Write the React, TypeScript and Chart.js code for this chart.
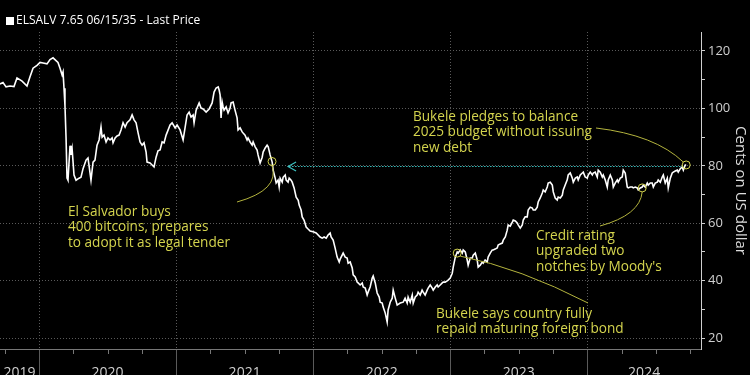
import React, { useEffect, useRef } from 'react';
import { Chart, registerables } from 'chart.js';

Chart.register(...registerables);

// ---- DATA (decimal years, cents on the dollar) ----
const DATES: number[] = [
  2019.715, 2019.737, 2019.759, 2019.788, 2019.817, 2019.839, 2019.876, 2019.912, 2019.934, 2019.956,
  2019.985, 2020.007, 2020.029, 2020.058, 2020.080, 2020.102, 2020.116, 2020.138, 2020.153, 2020.168,
  2020.175, 2020.182, 2020.189, 2020.197, 2020.204, 2020.211, 2020.226, 2020.233, 2020.241, 2020.255,
  2020.270, 2020.292, 2020.306, 2020.321, 2020.343, 2020.357, 2020.365, 2020.379, 2020.394, 2020.408,
  2020.423, 2020.438, 2020.452, 2020.460, 2020.474, 2020.489, 2020.503, 2020.518, 2020.533, 2020.540,
  2020.555, 2020.569, 2020.584, 2020.598, 2020.613, 2020.628, 2020.642, 2020.664, 2020.679, 2020.693,
  2020.708, 2020.723, 2020.737, 2020.752, 2020.766, 2020.781, 2020.788, 2020.810, 2020.825, 2020.839,
  2020.854, 2020.868, 2020.883, 2020.898, 2020.912, 2020.927, 2020.942, 2020.956, 2020.971, 2020.993,
  2021.007, 2021.029, 2021.051, 2021.066, 2021.080, 2021.095, 2021.109, 2021.124, 2021.131, 2021.146,
  2021.168, 2021.182, 2021.197, 2021.219, 2021.241, 2021.263, 2021.277, 2021.292, 2021.307, 2021.314,
  2021.321, 2021.328, 2021.336, 2021.343, 2021.350, 2021.365, 2021.379, 2021.394, 2021.401, 2021.416,
  2021.430, 2021.445, 2021.452, 2021.467, 2021.482, 2021.489, 2021.503, 2021.518, 2021.525, 2021.540,
  2021.555, 2021.562, 2021.577, 2021.591, 2021.598, 2021.613, 2021.628, 2021.635, 2021.650, 2021.664,
  2021.672, 2021.686, 2021.701, 2021.708, 2021.723, 2021.730, 2021.744, 2021.752, 2021.759, 2021.774,
  2021.781, 2021.796, 2021.803, 2021.817, 2021.825, 2021.839, 2021.847, 2021.861, 2021.876, 2021.891,
  2021.898, 2021.912, 2021.920, 2021.934, 2021.949, 2021.963, 2021.978, 2022.000, 2022.022, 2022.051,
  2022.066, 2022.080, 2022.095, 2022.109, 2022.124, 2022.131, 2022.146, 2022.160, 2022.175, 2022.190,
  2022.197, 2022.219, 2022.234, 2022.248, 2022.255, 2022.270, 2022.285, 2022.292, 2022.307, 2022.321,
  2022.328, 2022.343, 2022.358, 2022.365, 2022.380, 2022.394, 2022.401, 2022.416, 2022.431, 2022.438,
  2022.453, 2022.467, 2022.482, 2022.489, 2022.504, 2022.511, 2022.526, 2022.540, 2022.547, 2022.562,
  2022.577, 2022.584, 2022.599, 2022.613, 2022.635, 2022.657, 2022.671, 2022.686, 2022.693, 2022.708,
  2022.723, 2022.730, 2022.745, 2022.759, 2022.766, 2022.781, 2022.795, 2022.803, 2022.817, 2022.832,
  2022.839, 2022.854, 2022.869, 2022.876, 2022.891, 2022.905, 2022.912, 2022.927, 2022.942, 2022.949,
  2022.963, 2022.978, 2022.985, 2023.000, 2023.015, 2023.022, 2023.037, 2023.051, 2023.058, 2023.073,
  2023.088, 2023.095, 2023.110, 2023.124, 2023.131, 2023.146, 2023.161, 2023.168, 2023.183, 2023.197,
  2023.204, 2023.219, 2023.234, 2023.241, 2023.255, 2023.270, 2023.277, 2023.292, 2023.307, 2023.314,
  2023.328, 2023.343, 2023.350, 2023.365, 2023.380, 2023.387, 2023.402, 2023.416, 2023.423, 2023.438,
  2023.453, 2023.460, 2023.475, 2023.489, 2023.496, 2023.511, 2023.526, 2023.533, 2023.547, 2023.562,
  2023.569, 2023.584, 2023.599, 2023.606, 2023.621, 2023.635, 2023.642, 2023.657, 2023.672, 2023.679,
  2023.693, 2023.708, 2023.715, 2023.730, 2023.745, 2023.752, 2023.766, 2023.781, 2023.788, 2023.803,
  2023.818, 2023.825, 2023.839, 2023.854, 2023.861, 2023.876, 2023.891, 2023.898, 2023.913, 2023.927,
  2023.934, 2023.949, 2023.964, 2023.971, 2023.985, 2024.000, 2024.007, 2024.022, 2024.037, 2024.044,
  2024.058, 2024.073, 2024.080, 2024.095, 2024.110, 2024.117, 2024.131, 2024.146, 2024.153, 2024.168,
  2024.183, 2024.190, 2024.204, 2024.219, 2024.226, 2024.241, 2024.255, 2024.263, 2024.277, 2024.292,
  2024.299, 2024.314, 2024.328, 2024.336, 2024.350, 2024.365, 2024.372, 2024.387, 2024.401, 2024.409,
  2024.423, 2024.438, 2024.445, 2024.460, 2024.474, 2024.482, 2024.496, 2024.511, 2024.518, 2024.533,
  2024.547, 2024.555, 2024.569, 2024.584, 2024.591, 2024.606, 2024.620, 2024.628, 2024.642, 2024.657,
  2024.664, 2024.679, 2024.693, 2024.701, 2024.715, 2024.722,
];

const PRICES: number[] = [
  108.5, 109, 107.5, 107.8, 107.6, 110.6, 109.5, 107.8, 111, 114,
  115, 116, 115.8, 115.5, 117, 117.6, 117, 116, 114, 111.6,
  112.7, 107, 101, 89.7, 75.7, 75, 87, 83.8, 86, 76.8,
  75, 75.7, 76, 79, 82, 82.7, 80, 75, 81.3, 82,
  87.2, 89, 93.5, 90, 90.7, 88.3, 89.7, 89, 89.7, 88,
  89.7, 90.4, 90.7, 92.5, 95, 93.5, 95, 96, 97.7, 96,
  95, 91.4, 88.3, 87.2, 88, 84.8, 81.3, 81, 80.3, 79.6,
  83, 85.2, 85.5, 88.3, 88, 90.7, 92.5, 94.2, 95, 93.2,
  94.2, 92.5, 89, 93.5, 97.7, 98.7, 97, 97.7, 95, 99.4,
  101.9, 100.1, 99.8, 98.7, 99.8, 101.9, 105.7, 107.1, 107.5, 106.4,
  104.7, 96.7, 102.2, 100.5, 99.4, 100.5, 98.4, 100.1, 101.9, 102.2,
  99.4, 96.7, 92.5, 93.2, 91.8, 91.4, 90.7, 89, 89.7, 88.3,
  87.2, 88.3, 86.6, 85.5, 83.8, 81, 83, 84.8, 86.2, 87.2,
  86.6, 83.8, 81.3, 78.5, 75.7, 74, 75, 72.6, 75.7, 74.3,
  76, 76.8, 75, 74.3, 75.7, 75, 74.3, 72.3, 69.1, 68,
  66.3, 64.6, 62.2, 61, 58.7, 58, 57.3, 57, 56.6, 55.2,
  54.8, 55.2, 54.8, 55.9, 56.6, 55.2, 54.1, 51.4, 48.2, 46.5,
  47.5, 49.6, 48.2, 47.9, 46.1, 46.5, 44.4, 42, 41.3, 39.5,
  39.2, 38.5, 39.2, 37.8, 37.4, 35, 36, 37.8, 40.9, 41.6,
  39.2, 35.7, 34.3, 32.5, 32.2, 30.8, 28.7, 25.6, 29.8, 32.5,
  33.9, 36.7, 33.9, 31.5, 32.2, 32.5, 33.9, 32.2, 34.3, 32.5,
  35, 32.2, 34.3, 35, 36, 35, 36.7, 36, 35, 36.7,
  37.4, 38.5, 37.4, 36.7, 37.8, 38.5, 37.8, 38.5, 39.2, 39.5,
  39.5, 39.9, 40.2, 40.9, 42.6, 44.7, 48.2, 50, 49.6, 50.7,
  49.6, 50.7, 50, 47.2, 45.4, 47.9, 47.9, 48.9, 49.6, 47.2,
  44.7, 45.4, 46.5, 46.1, 47.2, 46.5, 48.2, 49.6, 50.7, 50.7,
  51, 51.4, 52.4, 52.8, 53.1, 54.1, 55.2, 57.6, 59.4, 59,
  60.4, 61.1, 60.8, 60.1, 59.4, 58.3, 59.4, 61.1, 62.2, 62.2,
  64.6, 65.6, 65.3, 64.6, 64.6, 65.6, 67.4, 68.8, 70.5, 71.6,
  70.9, 72.6, 74, 74.3, 73.3, 70.9, 68.8, 68.1, 69.1, 68.8,
  69.8, 71.6, 73.3, 75.1, 76.8, 77.5, 75.7, 74.3, 75.7, 76.1,
  75.1, 76.8, 77.5, 77.8, 76.1, 75.7, 76.8, 77.8, 76.8, 77.5,
  77.8, 76.1, 78.5, 77.8, 76.1, 76.8, 75.1, 72.6, 75.1, 76.8,
  75.1, 72.6, 74, 75.1, 74.3, 75.7, 76.1, 78.5, 77.5, 72.6,
  72.3, 72.6, 72.6, 72.3, 72.6, 72.3, 71.6, 72.3, 72.6, 73.3,
  72.6, 74, 73.3, 74, 74, 72.6, 74, 74.3, 75.1, 74.3,
  76.1, 76.8, 74, 75.7, 72.3, 75.7, 77.5, 77.8, 78.2, 78.5,
  77.8, 79, 79.6, 78.5, 80.3, 80.3,
];

const YEAR_LABELS: number[] = [2019, 2020, 2021, 2022, 2023, 2024];
const Y_TICKS: number[] = [20, 30, 40, 50, 60, 70, 80, 90, 100, 110, 120];
const Y_LABELED: number[] = [20, 40, 60, 80, 100, 120];
const SERIES_NAME = 'ELSALV 7.65 06/15/35 - Last Price';
const Y_TITLE = 'Cents on US dollar';
const X_MIN = 2019.715;
const X_MAX = 2024.83;
const Y_MIN = 16.2;
const Y_MAX = 126.6;
const ARROW_LEVEL = 80;
const ARROW_FROM = 2024.7;
const ARROW_TO = 2021.817;

const NOTES = [
  {
    lines: ['El Salvador buys', '400 bitcoins, prepares', 'to adopt it as legal tender'],
    point: { x: 2021.7, y: 81.5 },
    text: { x: 68, y: 212 },
    curve: { sx: 237, sy: 202, cx: 280, cy: 190 },
    end: { dx: 0, dy: 4 },
  },
  {
    lines: ['Bukele pledges to balance', '2025 budget without issuing', 'new debt'],
    point: { x: 2024.722, y: 80.3 },
    text: { x: 413, y: 117 },
    curve: { sx: 596, sy: 128, cx: 655, cy: 135 },
    end: { dx: -3, dy: -3 },
  },
  {
    lines: ['Credit rating', 'upgraded two', "notches by Moody's"],
    point: { x: 2024.401, y: 72.3 },
    text: { x: 536, y: 236 },
    curve: { sx: 600, sy: 226, cx: 640, cy: 215 },
    end: { dx: 0, dy: 4 },
  },
  {
    lines: ['Bukele says country fully', 'repaid maturing foreign bond'],
    point: { x: 2023.051, y: 49.6 },
    text: { x: 436, y: 314 },
    curve: { sx: 588, sy: 303, cx: 520, cy: 268 },
    end: { dx: 3, dy: 3 },
  },
];

const FONT = "'Open Sans', 'Liberation Sans', Arial, sans-serif";
const YELLOW = '#d4d44e';
const YELLOW_LINE = '#b4b43e';
const CYAN = '#3cc0c0';
const GRID = '#5a5a5a';
const TRANSPARENT = 'rgba(0,0,0,0)';

const isInt = (v: number) => Math.abs(v - Math.round(v)) < 1e-9;

const overlay = {
  id: 'overlay',
  beforeDraw(chart: any) {
    const ctx = chart.ctx;
    ctx.save();
    ctx.fillStyle = '#000';
    ctx.fillRect(0, 0, chart.width, chart.height);
    ctx.restore();
  },
  afterDraw(chart: any) {
    const ctx = chart.ctx;
    const xs = chart.scales.x;
    const ys = chart.scales.y;
    const area = chart.chartArea;
    ctx.save();

    // quarter tick marks on the x axis
    ctx.strokeStyle = '#777';
    ctx.lineWidth = 1;
    for (let q = 2019.75; q < X_MAX; q += 0.25) {
      if (isInt(q)) continue;
      const px = Math.round(xs.getPixelForValue(q)) + 0.5;
      ctx.beginPath();
      ctx.moveTo(px, area.bottom);
      ctx.lineTo(px, area.bottom + 5);
      ctx.stroke();
    }

    // legend
    ctx.fillStyle = '#fff';
    ctx.fillRect(6, 17, 8, 8);
    ctx.font = `12px ${FONT}`;
    ctx.textBaseline = 'middle';
    ctx.textAlign = 'left';
    ctx.fillText(SERIES_NAME, 16, 21);

    // cyan dotted arrow
    const ay = Math.round(ys.getPixelForValue(ARROW_LEVEL)) + 0.5;
    const ax1 = xs.getPixelForValue(ARROW_TO);
    const ax2 = xs.getPixelForValue(ARROW_FROM);
    ctx.strokeStyle = CYAN;
    ctx.lineWidth = 1.2;
    ctx.setLineDash([1.5, 1.5]);
    ctx.beginPath();
    ctx.moveTo(ax1 + 1, ay);
    ctx.lineTo(ax2, ay);
    ctx.stroke();
    ctx.setLineDash([]);
    ctx.beginPath();
    ctx.moveTo(ax1 + 8, ay - 4.5);
    ctx.lineTo(ax1, ay);
    ctx.lineTo(ax1 + 8, ay + 4.5);
    ctx.stroke();

    // annotations
    for (const n of NOTES) {
      const px = xs.getPixelForValue(n.point.x);
      const py = ys.getPixelForValue(n.point.y);
      ctx.strokeStyle = YELLOW_LINE;
      ctx.lineWidth = 1;
      ctx.beginPath();
      ctx.moveTo(n.curve.sx, n.curve.sy);
      ctx.quadraticCurveTo(n.curve.cx, n.curve.cy, px + n.end.dx, py + n.end.dy);
      ctx.stroke();
      ctx.strokeStyle = YELLOW;
      ctx.beginPath();
      ctx.arc(px, py, 4, 0, Math.PI * 2);
      ctx.stroke();
      ctx.fillStyle = YELLOW;
      ctx.font = `13.6px ${FONT}`;
      ctx.textBaseline = 'middle';
      n.lines.forEach((l, i) => ctx.fillText(l, n.text.x, n.text.y + i * 15.5));
    }
    ctx.restore();
  },
};

export default function App() {
  const ref = useRef<HTMLCanvasElement>(null);

  useEffect(() => {
    document.body.style.margin = '0';
    document.body.style.background = '#000';
    const canvas = ref.current;
    if (!canvas) return;

    const labelPositions = YEAR_LABELS.map((y) => (Math.max(y, X_MIN) + Math.min(y + 1, X_MAX)) / 2);
    const boundaries = YEAR_LABELS.filter((y) => y > X_MIN && y < X_MAX);

    const chart = new Chart(canvas, {
      type: 'line',
      data: {
        datasets: [
          {
            label: SERIES_NAME,
            data: DATES.map((d, i) => ({ x: d, y: PRICES[i] })),
            borderColor: '#ffffff',
            borderWidth: 1.6,
            pointRadius: 0,
            tension: 0,
            fill: false,
          },
        ],
      },
      options: {
        animation: false,
        responsive: false,
        devicePixelRatio: 1,
        layout: { padding: { top: 32, left: 0, right: 0, bottom: 0 } },
        plugins: { legend: { display: false }, tooltip: { enabled: false } },
        scales: {
          x: {
            type: 'linear',
            min: X_MIN,
            max: X_MAX,
            afterBuildTicks: (s: any) => {
              const vals = [...boundaries, ...labelPositions].sort((a, b) => a - b);
              s.ticks = vals.map((v) => ({ value: v }));
            },
            afterFit: (s: any) => {
              s.height = 26;
            },
            ticks: {
              autoSkip: false,
              maxRotation: 0,
              padding: -10,
              color: '#cfcfcf',
              font: { family: FONT, size: 14 },
              callback: (v: any) => (isInt(Number(v)) ? '' : String(Math.floor(Number(v)))),
            },
            grid: {
              color: (c: any) => (c.tick && isInt(c.tick.value) ? GRID : TRANSPARENT),
              tickColor: (c: any) => (c.tick && isInt(c.tick.value) ? '#5a5a5a' : TRANSPARENT),
              tickLength: 26,
              lineWidth: 1,
            },
            border: { display: true, color: '#777', width: 1, dash: [1, 2] },
          },
          y: {
            position: 'right',
            min: Y_MIN,
            max: Y_MAX,
            afterBuildTicks: (s: any) => {
              s.ticks = Y_TICKS.map((v) => ({ value: v }));
            },
            afterFit: (s: any) => {
              s.width = 49;
            },
            ticks: {
              autoSkip: false,
              padding: 3,
              color: '#cfcfcf',
              font: { family: FONT, size: 13 },
              callback: (v: any) => (Y_LABELED.includes(Number(v)) ? String(v) : ''),
            },
            grid: {
              color: (c: any) => (c.tick && Y_LABELED.includes(c.tick.value) ? GRID : TRANSPARENT),
              tickColor: '#cfcfcf',
              tickLength: 4,
              lineWidth: 1,
            },
            border: { display: true, color: '#cfcfcf', width: 1, dash: [1, 2] },
            title: {
              display: true,
              text: Y_TITLE,
              color: '#dddddd',
              font: { family: FONT, size: 15 },
              padding: { top: 1, bottom: 0 },
            },
          },
        },
      },
      plugins: [overlay],
    });

    return () => chart.destroy();
  }, []);

  return (
    <div style={{ position: 'fixed', left: 0, top: 0, width: 750, height: 375, background: '#000' }}>
      <canvas ref={ref} width={750} height={375} style={{ display: 'block' }} />
    </div>
  );
}
